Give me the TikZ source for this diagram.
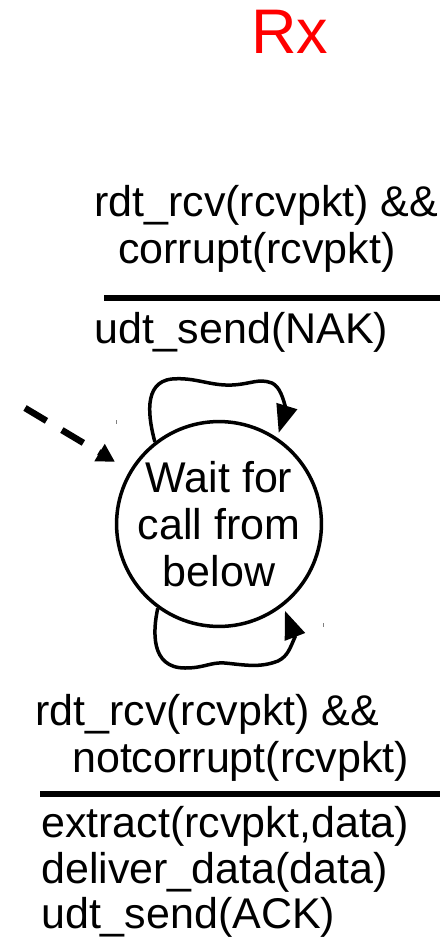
\documentclass[tikz,border=0pt]{standalone}
\usepackage{fontspec}
\setmainfont{Liberation Sans}
\usetikzlibrary{arrows.meta}
\begin{document}
\begin{tikzpicture}[x=1pt,y=-1pt,
  lbl/.style={anchor=base west,inner sep=0pt,font=\fontsize{43}{47}\selectfont},
  state/.style={circle,draw,line width=3.5pt,minimum size=204pt,inner sep=0pt,
    align=center,font=\fontsize{43}{47}\selectfont},
  selfloop/.style={line width=3.5pt,-{Triangle[length=28pt,width=21pt]},shorten >=5pt},
  initarrow/.style={line width=6.5pt,dash pattern=on 25pt off 18pt,
    -{Triangle[length=18pt,width=19pt]},shorten >=17pt},
  guard/.style={line width=6pt},
  speck/.style={line width=0.8pt,gray}]
  \useasboundingbox (0,0) rectangle (447,940);

  % title
  \node[anchor=base,inner sep=0pt,text=red,font=\fontsize{63}{70}\selectfont]
    (title) at (290,53) {Rx};

  % the single state
  \node[state] (s) at (219,524) {Wait for\\call from\\below};

  % initial transition
  \coordinate (init) at (25,408);
  \draw[initarrow] (init) -- (s);

  % self loop on top: corrupt packet
  \draw[selfloop] (s.128) .. controls (149,420) and (142,382) .. (172,379)
    .. controls (195,377) and (210,386) .. (232,385)
    .. controls (252,384) and (258,378) .. (272,383)
    .. controls (280,387) and (283,398) .. (286,409) -- (s.56);

  % self loop at the bottom: good packet
  \draw[selfloop] (s.234) .. controls (153,630) and (150,668) .. (185,668)
    .. controls (205,668) and (210,662) .. (225,663)
    .. controls (245,665) and (260,668) .. (278,661)
    .. controls (288,656) and (290,648) .. (295,637) -- (s.-52);

  % small stray marks
  \draw[speck] (116,420) -- (116,424);
  \draw[speck] (323,623) -- (323,627);

  % label of the top loop
  \node[lbl] (c1) at (94,216) {rdt\_rcv(rcvpkt) \&\&};
  \node[lbl] (c2) at (118,263) {corrupt(rcvpkt)};
  \draw[guard] (104,298) -- (440,298);
  \node[lbl] (a1) at (94,343) {udt\_send(NAK)};

  % label of the bottom loop
  \node[lbl] (d1) at (35,725) {rdt\_rcv(rcvpkt) \&\&};
  \node[lbl] (d2) at (72,772) {notcorrupt(rcvpkt)};
  \draw[guard] (40,794) -- (440,794);
  \node[lbl] (b1) at (41,837) {extract(rcvpkt,data)};
  \node[lbl] (b2) at (41,883) {deliver\_data(data)};
  \node[lbl] (b3) at (41,928) {udt\_send(ACK)};
\end{tikzpicture}
\end{document}
